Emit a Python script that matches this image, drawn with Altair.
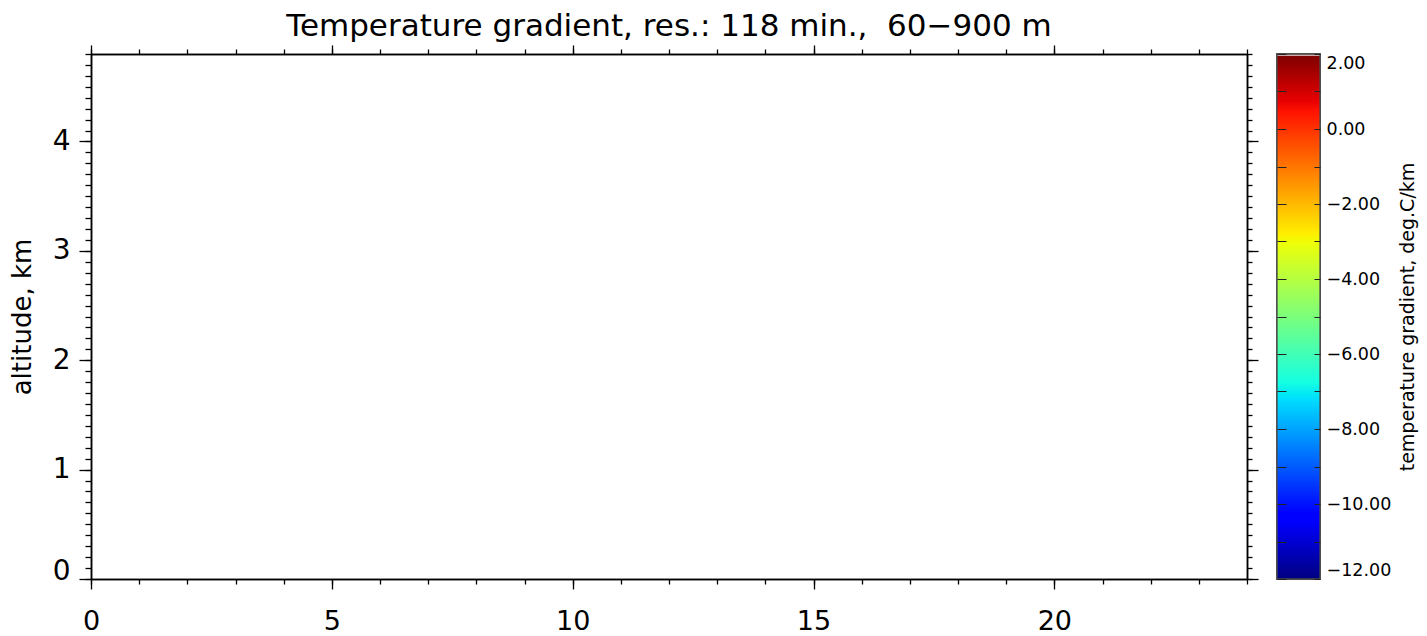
import altair as alt
import pandas as pd

# ---------------- data ----------------
time_range = [0, 24]            # hours
alt_range = [0, 4.8]            # km
x_major = [0, 5, 10, 15, 20]
x_minor = list(range(0, 25))
y_major = [0, 1, 2, 3, 4]
y_minor = [i / 10 for i in range(0, 49)]
cb_range = [-12, 2]
cb_labels = [2, 0, -2, -4, -6, -8, -10, -12]
cb_ticks = list(range(-12, 3))

# no measurements in this window: the field is empty
time_h = []
altitude_km = []
gradient_val = []

TITLE = "Temperature gradient, res.: 118 min.,\u00a0 60\u2212900 m"
CB_TITLE = "temperature gradient, deg.C/km"
FONT = "DejaVu Sans"

# jet colour table (offset, colour)
jet_offsets = [0.0, 0.11, 0.125, 0.34, 0.35, 0.375, 0.64, 0.65, 0.66, 0.89, 0.91, 0.996, 0.997, 1.0]
jet_colors = ["#000080", "#0000ff", "#0000ff", "#00dbff", "#00e6f7", "#15ffe2", "#eeff08",
              "#f7f600", "#ffec00", "#ff1300", "#e80000", "#800000", "#d0a8a8", "#d0a8a8"]

main_df = pd.DataFrame({"time": pd.Series(time_h, dtype=float),
                        "altitude": pd.Series(altitude_km, dtype=float),
                        "gradient": pd.Series(gradient_val, dtype=float)})
cb_df = pd.DataFrame({"lo": [cb_range[0]], "hi": [cb_range[1]]})

# ---------------- main panel ----------------
x_scale = alt.Scale(domain=time_range, nice=False, zero=False)
y_scale = alt.Scale(domain=alt_range, nice=False, zero=False)
common = dict(domainColor="black", domainWidth=1.5, tickColor="black", tickWidth=1.3,
              grid=False, zindex=1)

def ax(orient, values, size, labels=False, **kw):
    return alt.Axis(orient=orient, values=values, tickSize=size, labels=labels, **common, **kw)

x_minor_b = ax("bottom", x_minor, 5, title=None)
x_major_b = ax("bottom", x_major, 10, labels=True, title=None, labelPadding=19,
               labelFontSize=27, labelFont=FONT, labelColor="black", labelFlush=False,
               labelOverlap=False)
x_minor_t = ax("top", x_minor, 5, title=None)
x_major_t = ax("top", x_major, 9, title=None)

y_minor_l = ax("left", y_minor, 6, title=None)
y_major_l = ax("left", y_major, 12, labels=True, labelPadding=9, labelFontSize=28,
               labelFont=FONT, labelColor="black", labelFlush=False, labelOverlap=False,
               labelBaseline={"condition": {"test": "datum.value === 0", "value": "alphabetic"},
                              "value": "middle"},
               title="altitude, km", titleFontSize=26, titleFont=FONT,
               titleFontWeight="normal", titleColor="black", titlePadding=17)
y_minor_r = ax("right", y_minor, 5, title=None)
y_major_r = ax("right", y_major, 11, title=None)


def main_layer(xa, ya):
    return alt.Chart(main_df).mark_rect().encode(
        x=alt.X("time:Q", scale=x_scale, axis=xa),
        y=alt.Y("altitude:Q", scale=y_scale, axis=ya),
        color=alt.Color("gradient:Q", scale=alt.Scale(domain=cb_range, range=jet_colors[:11]),
                        legend=None),
    )


main = alt.layer(
    main_layer(x_minor_b, y_minor_l),
    main_layer(x_major_b, y_major_l),
    main_layer(x_minor_t, y_minor_r),
    main_layer(x_major_t, y_major_r),
).resolve_axis(x="independent", y="independent").properties(
    width=1156, height=525,
    title=alt.TitleParams(TITLE, fontSize=31, font=FONT, fontWeight="normal",
                          color="black", anchor="middle", offset=1),
)

# ---------------- colour bar ----------------
jet_gradient = {
    "gradient": "linear", "x1": 0, "x2": 0, "y1": 1, "y2": 0,
    "stops": [{"offset": o, "color": c} for o, c in zip(jet_offsets, jet_colors)],
}
cb_scale = alt.Scale(domain=cb_range, nice=False, zero=False)
cb_x_scale = alt.Scale(domain=[0, 1], nice=False, zero=False)


def cb_layer(axis):
    return alt.Chart(cb_df).mark_rect(fill=jet_gradient, stroke="#4a4a4a", strokeWidth=1.3).encode(
        x=alt.X(datum=0, scale=cb_x_scale, axis=None), x2=alt.X2(datum=1),
        y=alt.Y("lo:Q", scale=cb_scale, axis=axis), y2="hi:Q",
    )


cb_lab = alt.Axis(orient="right", values=cb_labels, format=".2f", ticks=False, domain=False,
                  grid=False, labelPadding=6, labelFontSize=17.5, labelFont=FONT,
                  labelColor="black", labelFlush=True, labelOverlap=False,
                  title=CB_TITLE, titleFontSize=19, titleFont=FONT, titleFontWeight="normal",
                  titleColor="black", titleAngle=270, titleBaseline="top", titlePadding=8)
cb_tl = alt.Axis(orient="left", values=cb_ticks, tickSize=9, offset=-9, labels=False,
                 domain=False, grid=False, title=None, tickColor="#222222", tickWidth=1, zindex=2)
cb_tr = alt.Axis(orient="right", values=cb_ticks, tickSize=6, offset=-6, labels=False,
                 domain=False, grid=False, title=None, tickColor="#222222", tickWidth=1, zindex=2)

colorbar = alt.layer(cb_layer(cb_lab), cb_layer(cb_tl), cb_layer(cb_tr)).resolve_axis(
    y="independent").properties(width=43, height=525)

chart = alt.hconcat(main, colorbar, spacing=15).properties(
    padding={"left": 0, "top": 2, "right": 0, "bottom": 0},
).configure_view(stroke=None).configure(background="white")

chart.save("out.html", embed_options={"renderer": "svg", "actions": False})
